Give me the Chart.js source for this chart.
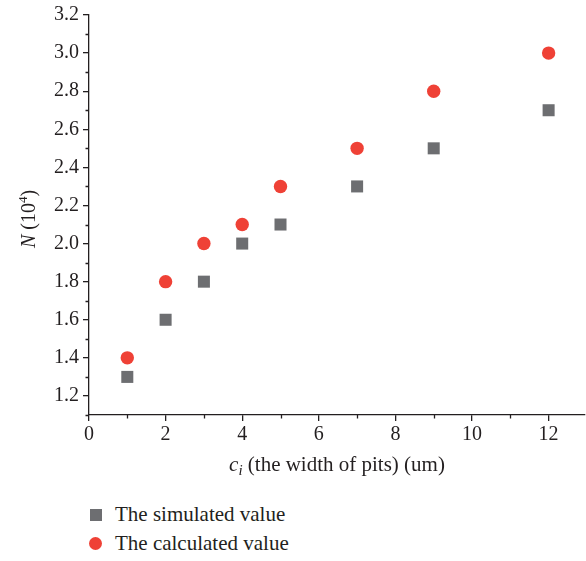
<!DOCTYPE html>
<html>
<head>
<meta charset="utf-8">
<script src="https://cdn.jsdelivr.net/npm/chart.js@4"></script>
<style>
    body { margin: 0; background: #fff; }
    #wrap { position: relative; width: 586px; height: 561px; }
    #chart { position: absolute; left: 0; top: 0; }
    #legend { position: absolute; left: 89px; top: 500px; font-family: "Liberation Serif", serif; font-size: 21px; color: #231f20; }
    .item { display: flex; align-items: center; height: 29px; }
    .mark { width: 13px; height: 13px; display: flex; align-items: center; justify-content: center; margin-right: 13px; }
</style>
</head>
<body>
<div id="wrap">
    <canvas id="chart" width="586" height="490"></canvas>
    <div id="legend"></div>
</div>
<script>
document.addEventListener('DOMContentLoaded', () => {

    // --- DATA ---
    const widths = [1, 2, 3, 4, 5, 7, 9, 12];
    const simulated = [1.3, 1.6, 1.8, 2.0, 2.1, 2.3, 2.5, 2.7];
    const calculated = [1.4, 1.8, 2.0, 2.1, 2.3, 2.5, 2.8, 3.0];
    const seriesNames = ['The simulated value', 'The calculated value'];
    const xMinorTicks = [1, 3, 5, 7, 9, 11];
    const yMinorTicks = [1.1, 1.3, 1.5, 1.7, 1.9, 2.1, 2.3, 2.5, 2.7, 2.9, 3.1];

    const AXIS = '#231f20';
    const GRAY = '#6d6e71';
    const RED = '#ef4136';
    const FONT = '"Liberation Serif", serif';

    const toPoints = (ys) => widths.map((x, i) => ({ x, y: ys[i] }));

    // minor ticks + mixed-style axis titles
    const extras = {
        id: 'extras',
        afterDraw(chart) {
            const { ctx, scales: { x, y }, chartArea } = chart;
            ctx.save();
            ctx.strokeStyle = AXIS;
            ctx.lineWidth = 1.3;
            ctx.beginPath();
            xMinorTicks.forEach(v => {
                const px = Math.round(x.getPixelForValue(v)) + 0.5;
                ctx.moveTo(px, x.top);
                ctx.lineTo(px, x.top + 3.5);
            });
            yMinorTicks.forEach(v => {
                const py = Math.round(y.getPixelForValue(v)) + 0.5;
                ctx.moveTo(y.right, py);
                ctx.lineTo(y.right - 3.5, py);
            });
            ctx.stroke();

            ctx.fillStyle = AXIS;
            ctx.textBaseline = 'alphabetic';

            // x title: c_i (the width of pits) (um)
            const parts = [
                { t: 'c', f: 'italic 21px ' + FONT, dy: 0 },
                { t: 'i', f: 'italic 15px ' + FONT, dy: 4 },
                { t: ' (the width of pits) (um)', f: '21px ' + FONT, dy: 0 }
            ];
            let total = 0;
            parts.forEach(p => { ctx.font = p.f; p.w = ctx.measureText(p.t).width; total += p.w; });
            let cx = (chartArea.left + chartArea.right) / 2 - total / 2;
            const by = 471;
            parts.forEach(p => { ctx.font = p.f; ctx.fillText(p.t, cx, by + p.dy); cx += p.w; });

            // y title: N (10^4)
            ctx.translate(35, (chartArea.top + chartArea.bottom) / 2 + 4);
            ctx.rotate(-Math.PI / 2);
            const yparts = [
                { t: 'N', f: 'italic 20px ' + FONT, dy: 0 },
                { t: ' (10', f: '20px ' + FONT, dy: 0 },
                { t: '4', f: '13px ' + FONT, dy: -8 },
                { t: ')', f: '20px ' + FONT, dy: 0 }
            ];
            total = 0;
            yparts.forEach(p => { ctx.font = p.f; p.w = ctx.measureText(p.t).width; total += p.w; });
            cx = -total / 2;
            yparts.forEach(p => { ctx.font = p.f; ctx.fillText(p.t, cx, p.dy); cx += p.w; });
            ctx.restore();
        }
    };

    const chart = new Chart(document.getElementById('chart'), {
        type: 'scatter',
        data: {
            datasets: [{
                label: seriesNames[0],
                data: toPoints(simulated),
                pointStyle: 'rect',
                pointRadius: 8.5,
                pointHoverRadius: 8.5,
                backgroundColor: GRAY,
                borderWidth: 0
            }, {
                label: seriesNames[1],
                data: toPoints(calculated),
                pointStyle: 'circle',
                pointRadius: 6.7,
                pointHoverRadius: 6.7,
                backgroundColor: RED,
                borderWidth: 0
            }]
        },
        options: {
            responsive: false,
            animation: false,
            layout: { autoPadding: false, padding: { top: 15, right: 1, left: 0, bottom: 0 } },
            plugins: { legend: { display: false }, tooltip: { enabled: false } },
            scales: {
                x: {
                    type: 'linear',
                    min: 0,
                    max: 12.95,
                    border: { color: AXIS, width: 1.3 },
                    grid: { drawOnChartArea: false, drawTicks: true, tickLength: 6, tickColor: AXIS, lineWidth: 1.3 },
                    ticks: { stepSize: 2, includeBounds: false, color: AXIS, font: { family: FONT, size: 20 }, padding: 2 },
                    afterFit: (s) => { s.height = 75; s.paddingRight = 0; s.paddingLeft = 0; }
                },
                y: {
                    type: 'linear',
                    min: 1.1,
                    max: 3.2,
                    border: { color: AXIS, width: 1.3 },
                    grid: { drawOnChartArea: false, drawTicks: true, tickLength: 6, tickColor: AXIS, lineWidth: 1.3 },
                    ticks: {
                        stepSize: 0.2,
                        includeBounds: false,
                        color: AXIS,
                        font: { family: FONT, size: 20 },
                        padding: 4,
                        callback: (v) => v.toFixed(1)
                    },
                    afterFit: (s) => { s.width = 89; s.paddingTop = 0; s.paddingBottom = 0; }
                }
            }
        },
        plugins: [extras]
    });

    // --- HTML LEGEND ---
    const legend = document.getElementById('legend');
    chart.data.datasets.forEach(ds => {
        const item = document.createElement('div');
        item.className = 'item';
        const mark = document.createElement('span');
        mark.className = 'mark';
        const dot = document.createElement('span');
        const isRect = ds.pointStyle === 'rect';
        dot.style.width = isRect ? '12px' : '13px';
        dot.style.height = isRect ? '12px' : '13px';
        dot.style.background = ds.backgroundColor;
        dot.style.borderRadius = isRect ? '0' : '50%';
        mark.appendChild(dot);
        const label = document.createElement('span');
        label.textContent = ds.label;
        item.appendChild(mark);
        item.appendChild(label);
        legend.appendChild(item);
    });
});
</script>
</body>
</html>
